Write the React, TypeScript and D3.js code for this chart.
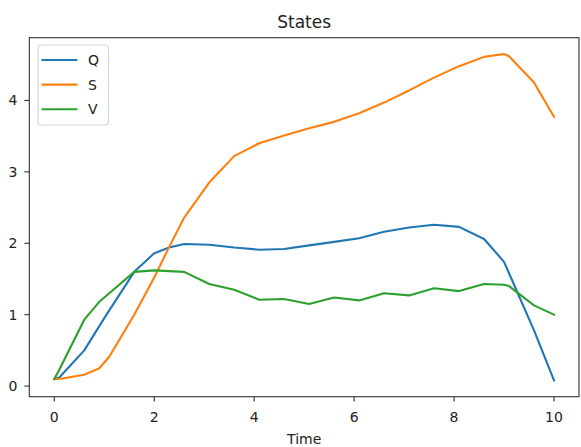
import * as d3 from 'd3';
import React from 'react';

// time points of the solver output
const time = [0, 0.1, 0.6, 0.9, 1.1, 1.6, 2.0, 2.3, 2.6, 3.1, 3.6, 4.1, 4.6, 5.1, 5.6, 6.1, 6.6, 7.1, 7.6, 8.1, 8.6, 9.0, 9.1, 9.6, 10];

const qValues = [0.1, 0.12, 0.5, 0.84, 1.06, 1.6, 1.86, 1.94, 1.99, 1.98, 1.94, 1.91, 1.92, 1.97, 2.02, 2.07, 2.16, 2.22, 2.26, 2.23, 2.06, 1.74, 1.58, 0.78, 0.08];
const sValues = [0.1, 0.1, 0.16, 0.25, 0.41, 1.0, 1.52, 1.95, 2.36, 2.85, 3.22, 3.40, 3.51, 3.61, 3.70, 3.82, 3.97, 4.14, 4.32, 4.48, 4.61, 4.65, 4.62, 4.25, 3.77];
const vValues = [0.1, 0.23, 0.93, 1.18, 1.3, 1.6, 1.62, 1.61, 1.6, 1.43, 1.35, 1.21, 1.22, 1.15, 1.24, 1.2, 1.3, 1.27, 1.37, 1.33, 1.43, 1.42, 1.4, 1.13, 1.0];

const seriesNames = ['Q', 'S', 'V'];
const colors = ['#1f77b4', '#ff7f0e', '#2ca02c'];
const xTicks = [0, 2, 4, 6, 8, 10];
const yTicks = [0, 1, 2, 3, 4];

const W = 581;
const H = 447;
const font = '"DejaVu Sans", sans-serif';

export default function App() {
    const margin = { top: 37.7, right: 2, bottom: 50.3, left: 29.3 };
    const all = [qValues, sValues, vValues];

    // matplotlib style 5% padding around the data
    const xExt = d3.extent(time) as [number, number];
    const xPad = (xExt[1] - xExt[0]) * 0.05;
    const yExt = d3.extent(all.flat()) as [number, number];
    const yPad = (yExt[1] - yExt[0]) * 0.05;

    const x = d3.scaleLinear()
        .domain([xExt[0] - xPad, xExt[1] + xPad])
        .range([margin.left, W - margin.right]);
    const y = d3.scaleLinear()
        .domain([yExt[0] - yPad, yExt[1] + yPad])
        .range([H - margin.bottom, margin.top]);

    const line = d3.line<number>()
        .x((d, i) => x(time[i]))
        .y(d => y(d));

    const left = margin.left;
    const right = W - margin.right;
    const top = margin.top;
    const bottom = H - margin.bottom;

    return (
        <svg width={W} height={H} style={{ position: 'fixed', left: 0, top: 0, background: '#fff' }}>
            <rect x={0} y={0} width={W} height={H} fill="#fff" />
            <text x={(left + right) / 2} y={28} textAnchor="middle" fontFamily={font} fontSize={17} fill="#222">States</text>

            {/* series */}
            <g fill="none" strokeWidth={2.1} strokeLinejoin="round" strokeLinecap="square">
                {all.map((vals, k) => (
                    <path key={k} d={line(vals) || ''} stroke={colors[k]} />
                ))}
            </g>

            {/* frame */}
            <rect x={left} y={top} width={right - left} height={bottom - top} fill="none" stroke="#333" strokeWidth={1.1} />

            {/* x axis */}
            {xTicks.map(t => (
                <g key={'x' + t}>
                    <line x1={x(t)} x2={x(t)} y1={bottom} y2={bottom + 4.9} stroke="#333" strokeWidth={1.1} />
                    <text x={x(t)} y={bottom + 25} textAnchor="middle" fontFamily={font} fontSize={14} fill="#222">{t}</text>
                </g>
            ))}
            <text x={(left + right) / 2} y={444} textAnchor="middle" fontFamily={font} fontSize={14} fill="#222">Time</text>

            {/* y axis */}
            {yTicks.map(t => (
                <g key={'y' + t}>
                    <line x1={left - 4.9} x2={left} y1={y(t)} y2={y(t)} stroke="#333" strokeWidth={1.1} />
                    <text x={left - 12} y={y(t) + 5} textAnchor="end" fontFamily={font} fontSize={14} fill="#222">{t}</text>
                </g>
            ))}

            {/* legend */}
            <rect x={38} y={45} width={70.5} height={80} rx={3} fill="#fff" fillOpacity={0.8} stroke="#d6d6d6" strokeWidth={1.1} />
            {seriesNames.map((name, k) => (
                <g key={name}>
                    <line x1={41.5} x2={77.5} y1={60 + k * 24.6} y2={60 + k * 24.6} stroke={colors[k]} strokeWidth={2.1} />
                    <text x={88} y={65 + k * 24.6} fontFamily={font} fontSize={14} fill="#222">{name}</text>
                </g>
            ))}
        </svg>
    );
}
